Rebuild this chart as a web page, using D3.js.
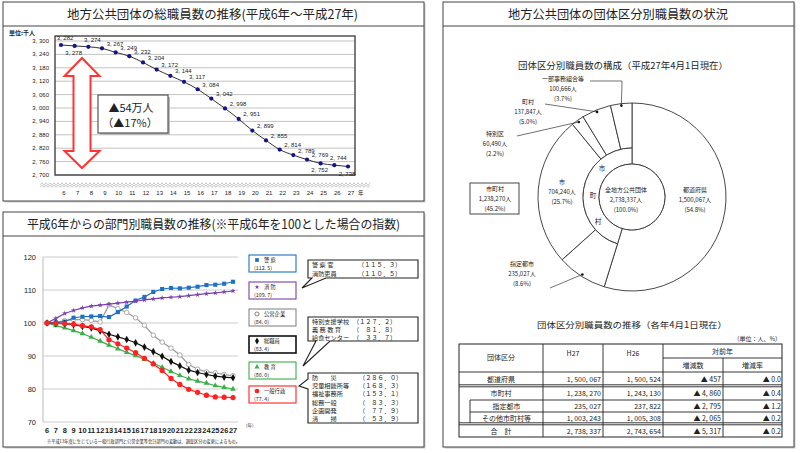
<!DOCTYPE html>
<html><head><meta charset="utf-8">
<script src="https://cdn.jsdelivr.net/npm/d3@7"></script>
<style>
body{margin:0;background:#fff}
svg{display:block}
text{font-family:"Noto Sans CJK JP","Noto Sans",sans-serif;fill:#222}
.num{font-family:"Liberation Sans",Arial,sans-serif}
</style></head><body>
<svg id="c" width="800" height="453"></svg>
<script>
// ===== DATA =====
const years = [6,7,8,9,10,11,12,13,14,15,16,17,18,19,20,21,22,23,24,25,26,27];
const totalStaff = [3282,3278,3274,3267,3249,3232,3204,3172,3144,3117,3084,3042,2998,2951,2899,2855,2814,2789,2769,2752,2744,2738];
const totalTicks = [2700,2760,2820,2880,2940,3000,3060,3120,3180,3240,3300];
const totalLabelSide = ["a","b","a","r","r","r","r","r","r","r","r","r","r","r","r","r","r","r","r","b","a","b"];

const deptNames = ["警 察","消 防","公営企業","総職員","教 育","一般行政"];
const deptLatest = ["(112. 5)","(109. 7)","(84. 0)","(83. 4)","(80. 0)","(77. 4)"];
const police  = [100,100.1,100.4,101.6,101.9,102.0,102.1,101.8,103.3,105.0,106.8,107.9,109.4,110.3,110.6,110.5,110.7,111.0,111.5,111.6,111.9,112.5];
const fire    = [100,101.4,102.9,103.8,104.6,105.1,105.4,105.7,106.0,106.3,106.6,107.0,107.3,107.6,107.8,108.0,108.3,108.6,108.9,109.1,109.4,109.7];
const pubEnt  = [100,100.2,100.7,101.0,101.0,100.8,100.3,105.5,104.3,103.2,101.6,99.3,96.3,94.2,92.4,90.3,87.4,86.0,85.2,84.9,84.4,84.0];
const allStaff= [100,99.9,99.8,99.5,99.0,98.5,97.6,96.6,95.8,95.0,94.0,92.7,91.3,89.9,88.3,87.0,85.7,85.0,84.4,83.9,83.6,83.4];
const educ    = [100,99.2,98.5,97.7,96.8,95.7,94.5,93.3,92.2,91.1,90.1,89.0,87.8,86.6,85.3,84.1,83.1,82.4,81.8,81.0,80.5,80.0];
const general = [100,99.9,99.8,99.6,99.2,98.8,98.0,94.9,93.7,92.4,91.0,89.3,87.6,85.6,83.2,81.4,79.9,79.0,78.1,77.6,77.5,77.4];
const deptTicks = [70,80,90,100,110,120];

const call1 = [["警 察 官","（１１５．３）"],["消防吏員","（１１０．５）"]];
const call2 = [["特別支援学校","（１２７．２）"],["義 務 教 育","（　８１．８）"],["給食センター","（　３３．７）"]];
const call3 = [["防　　災","（２８６．０）"],["児童相談所等","（１６８．３）"],["福祉事務所","（１５３．１）"],["総務一般","（　８３．３）"],["企画開発","（　７７．９）"],["清　　掃","（　５３．９）"]];

const pieCats = ["都道府県","指定都市","市","特別区","町村","一部事務組合等"];
const pieVals = [1500067,235027,704240,60490,137847,100666];
const piePct  = ["(54.8%)","(8.6%)","(25.7%)","(2.2%)","(5.0%)","(3.7%)"];
const munTotal = 1238270, allTotal = 2738337;

const tblHead = ["団体区分","H27","H26","対前年","増減数","増減率"];
const tblRows = ["都道府県","市町村","指定都市","その他市町村等","合　計"];
const tblH27  = ["1, 500, 067","1, 238, 270","235, 027","1, 003, 243","2, 738, 337"];
const tblH26  = ["1, 500, 524","1, 243, 130","237, 822","1, 005, 308","2, 743, 654"];
const tblDiff = ["▲ 457","▲ 4, 860","▲ 2, 795","▲ 2, 065","▲ 5, 317"];
const tblRate = ["▲ 0.0","▲ 0.4","▲ 1.2","▲ 0.2","▲ 0.2"];

// ===== DRAW =====
const svg = d3.select("#c");
const fmtK = v => d3.format(",")(v).replace(",", ", ");

function panel(x,y,w,h,titleBottom,title,cx,tl){
  svg.append("rect").attr("x",x+1.5).attr("y",y+1.5).attr("width",w).attr("height",h).attr("fill","#ccc");
  svg.append("rect").attr("x",x).attr("y",y).attr("width",w).attr("height",h).attr("fill","#fff").attr("stroke","#444").attr("stroke-width",1);
  svg.append("line").attr("x1",x).attr("x2",x+w).attr("y1",titleBottom).attr("y2",titleBottom).attr("stroke","#444");
  svg.append("text").attr("x",cx).attr("y",(y+titleBottom)/2+4.5).attr("text-anchor","middle")
    .attr("font-size",12.5).attr("textLength",tl).attr("lengthAdjust","spacingAndGlyphs").text(title);
}
panel(3,2,421,199,26,"地方公共団体の総職員数の推移(平成6年～平成27年)",212.5,291);
panel(3,212,421,235,236,"平成6年からの部門別職員数の推移(※平成6年を100とした場合の指数)",213.5,373);
panel(443,2,351,445,26,"地方公共団体の団体区分別職員数の状況",618,220);

// ---- Panel A ----
{
  const x = d3.scalePoint().domain(years).range([61,348]);
  const y = d3.scaleLinear().domain([2700,3300]).range([175,41]);
  const g = svg.append("g");
  g.append("text").attr("x",9).attr("y",35).attr("font-size",6).attr("font-weight","bold").text("単位:千人");
  totalTicks.forEach(t=>{
    g.append("line").attr("x1",55).attr("x2",355).attr("y1",y(t)).attr("y2",y(t)).attr("stroke","#bbb").attr("stroke-width",0.9);
    g.append("text").attr("class","num").attr("x",49).attr("y",y(t)+2).attr("text-anchor","end").attr("font-size",6).attr("fill","#444").text(fmtK(t));
  });
  g.append("rect").attr("x",55).attr("y",36).attr("width",300).attr("height",139).attr("fill","none").attr("stroke","#444").attr("stroke-width",1.4);
  for(const off of [0,2.2]){
    const pts = d3.range(40,371,2).map((px,i)=>[px,184+off+(i%2?-1.2:1.2)]);
    g.append("path").attr("d",d3.line()(pts)).attr("fill","none").attr("stroke","#bbb").attr("stroke-width",0.8);
  }
  years.forEach(yr=>{
    g.append("text").attr("class","num").attr("x",x(yr)+3).attr("y",195).attr("text-anchor","middle").attr("font-size",6).attr("fill","#333").text(yr);
  });
  g.append("text").attr("x",358).attr("y",195).attr("font-size",5.5).attr("fill","#333").text("年");
  const arr = [[82,58],[99.5,76],[90.5,76],[90.5,151],[99.5,151],[82,168],[64.5,151],[73.5,151],[73.5,76],[64.5,76]];
  g.append("path").attr("d",d3.line()(arr)+"Z").attr("fill","#fff").attr("stroke","#f33").attr("stroke-width",2).attr("stroke-linejoin","miter");
  g.append("rect").attr("x",100).attr("y",97).attr("width",70).attr("height",38).attr("fill","#bbb");
  g.append("rect").attr("x",98).attr("y",95).attr("width",70).attr("height",38).attr("fill","#fff").attr("stroke","#555").attr("stroke-width",1.2);
  g.append("text").attr("x",131).attr("y",112).attr("text-anchor","middle").attr("font-size",11).text("▲54万人");
  g.append("text").attr("x",130).attr("y",127).attr("text-anchor","middle").attr("font-size",11).text("（▲17%）");
  g.append("path").datum(totalStaff).attr("d",d3.line().x((d,i)=>x(years[i])).y(d=>y(d)).curve(d3.curveMonotoneX))
    .attr("fill","none").attr("stroke","#333").attr("stroke-width",1);
  totalStaff.forEach((v,i)=>{
    g.append("circle").attr("cx",x(years[i])).attr("cy",y(v)).attr("r",2.1).attr("fill","#14148a");
    const s = totalLabelSide[i];
    const dx = s==="r"?13:(s==="a"?4:-1), dy = s==="r"?-2.5:(s==="a"?-5:9);
    g.append("text").attr("class","num").attr("x",x(years[i])+dx).attr("y",y(v)+dy).attr("text-anchor","middle")
      .attr("font-size",6).attr("fill","#333").text(fmtK(v));
  });
}

// ---- Panel B ----
{
  const x = d3.scalePoint().domain(years).range([47,233]);
  const y = d3.scaleLinear().domain([70,120]).range([422,257]);
  const g = svg.append("g");
  deptTicks.forEach(t=>{
    g.append("line").attr("x1",43).attr("x2",238).attr("y1",y(t)).attr("y2",y(t)).attr("stroke","#ccc").attr("stroke-width",1);
    g.append("text").attr("class","num").attr("x",36).attr("y",y(t)+2.5).attr("text-anchor","end").attr("font-size",7.5).attr("fill","#333").text(t);
  });
  g.append("line").attr("x1",43).attr("x2",43).attr("y1",257).attr("y2",422).attr("stroke","#bbb");
  years.forEach(yr=>{
    g.append("text").attr("class","num").attr("x",x(yr)).attr("y",433).attr("text-anchor","middle").attr("font-size",7.4).attr("font-weight","bold").attr("fill","#333").text(yr);
  });
  g.append("text").attr("x",246).attr("y",427).attr("font-size",4.5).attr("fill","#333").text("(年)");
  g.append("text").attr("x",47).attr("y",443).attr("font-size",4.3).attr("textLength",193).attr("lengthAdjust","spacingAndGlyphs").attr("fill","#333")
    .text("※平成13年度に生じている一般行政部門と公営企業等会計部門の変動は、調査区分の変更によるもの。");

  const series = [
    {v:police,  c:"#1f6fc4", sym:d3.symbolSquare, size:17, fill:"#1f6fc4"},
    {v:fire,    c:"#7b3fb0", sym:d3.symbolStar,   size:9,  fill:"#7b3fb0"},
    {v:pubEnt,  c:"#999",    sym:d3.symbolCircle, size:16, fill:"#fff"},
    {v:allStaff,c:"#111",    sym:d3.symbolDiamond,size:17, fill:"#111"},
    {v:educ,    c:"#3cae4a", sym:d3.symbolTriangle,size:14,fill:"#3cae4a"},
    {v:general, c:"#f22",    sym:d3.symbolCircle, size:22, fill:"#f22"}
  ];
  const line = d3.line().x((d,i)=>x(years[i])).y(d=>y(d));
  [2,0,1,4,3,5].forEach(k=>{
    const s = series[k];
    g.append("path").datum(s.v).attr("d",line).attr("fill","none").attr("stroke",s.c).attr("stroke-width",1.2);
    s.v.forEach((v,i)=>{
      g.append("path").attr("d",d3.symbol(s.sym,s.size)()).attr("transform",`translate(${x(years[i])},${y(v)})`)
        .attr("fill",s.fill).attr("stroke",k===2?s.c:"none").attr("stroke-width",0.8);
    });
  });
  const boxY = [255,282,309,336,362,386];
  series.forEach((s,k)=>{
    const by = boxY[k];
    g.append("rect").attr("x",249).attr("y",by).attr("width",47).attr("height",17).attr("fill","#fff").attr("stroke",k===3?"#111":(k===2?"#888":s.c)).attr("stroke-width",k===3?1.6:1.1);
    g.append("path").attr("d",d3.symbol(s.sym,s.size*0.8)()).attr("transform",`translate(257,${by+5})`).attr("fill",s.fill).attr("stroke",k===2?"#666":"none").attr("stroke-width",0.8);
    g.append("text").attr("x",264).attr("y",by+7).attr("font-size",5.3).text(deptNames[k]);
    g.append("text").attr("x",254).attr("y",by+14.5).attr("font-size",5.3).text(deptLatest[k]);
  });
  function callout(bx,by,pathD,rows,valX,lh,first){
    g.append("path").attr("d",pathD).attr("fill","#fff").attr("stroke","#222").attr("stroke-width",1.1);
    rows.forEach((r,i)=>{
      g.append("text").attr("x",bx+4).attr("y",by+first+i*lh).attr("font-size",6.2).text(r[0]);
      g.append("text").attr("x",valX).attr("y",by+first+i*lh).attr("font-size",6.2).text(r[1]);
    });
  }
  callout(308,260,"M308,260H418V278H326L302,288L312,278H308Z",call1,358,8.5,7);
  callout(308,317,"M308,317H418V341H330L303,366L316,341H308Z",call2,353,8,7);
  callout(308,373,"M308,373H418V423H308V389L299,386L308,379Z",call3,359,8.2,7);
}

// ---- Panel C : pie ----
{
  const cx = 632, cy = 197, r0 = 33, r1 = 49, r2 = 94;
  const g = svg.append("g");
  g.append("text").attr("x",623).attr("y",69).attr("text-anchor","middle").attr("font-size",9).attr("textLength",210).attr("lengthAdjust","spacingAndGlyphs")
    .text("団体区分別職員数の構成（平成27年4月1日現在）");
  const arcs = d3.pie().sort(null).value(d=>d)(pieVals);
  const pg = g.append("g").attr("transform",`translate(${cx},${cy})`);
  arcs.forEach((a,i)=>{
    const arc = d3.arc().innerRadius(i===0?r0:r1).outerRadius(r2);
    pg.append("path").attr("d",arc(a)).attr("fill","#fff").attr("stroke","#333").attr("stroke-width",0.9);
  });
  pg.append("path").attr("d",d3.arc().innerRadius(r0).outerRadius(r1)({startAngle:arcs[1].startAngle,endAngle:2*Math.PI}))
    .attr("fill","#fff").attr("stroke","#333").attr("stroke-width",0.9);
  pg.append("circle").attr("r",r0).attr("fill","#fff").attr("stroke","#333").attr("stroke-width",0.9);
  const fs = 6;
  function tl(x,y,lines,anchor="middle"){
    lines.forEach((t,i)=>g.append("text").attr("x",x).attr("y",y+i*10).attr("text-anchor",anchor).attr("font-size",fs).text(t));
  }
  const fmt = d3.format(",");
  tl(626,192,["全地方公共団体",fmt(allTotal)+"人","(100.0%)"]);
  tl(695,192,[pieCats[0],fmt(pieVals[0])+"人",piePct[0]]);
  tl(562,184,[pieCats[2],fmt(pieVals[2])+"人",piePct[2]]);
  tl(522,266,[pieCats[1],fmt(pieVals[1])+"人",piePct[1]]);
  tl(495,136,[pieCats[3],fmt(pieVals[3])+"人",piePct[3]]);
  tl(528,104,[pieCats[4],fmt(pieVals[4])+"人",piePct[4]]);
  tl(563,81,[pieCats[5],fmt(pieVals[5])+"人",piePct[5]]);
  g.append("rect").attr("x",470).attr("y",183).attr("width",49).attr("height",31).attr("fill","#fff").attr("stroke","#333").attr("stroke-width",0.9);
  tl(495,191,["市町村",fmt(munTotal)+"人","(45.2%)"]);
  [["市",602,171],["町",593,198],["村",598,224]].forEach(d=>g.append("text").attr("x",d[1]).attr("y",d[2]).attr("text-anchor","middle").attr("font-size",6.5).text(d[0]));
  const pt = (a,r)=>[cx+r*Math.sin(a), cy-r*Math.cos(a)];
  const mid = a=>(a.startAngle+a.endAngle)/2;
  const leaders = [
    [[550,288], pt(mid(arcs[1]),92)],
    [[517,136], pt(mid(arcs[3]),92)],
    [[545,104], pt(mid(arcs[4]),92)],
    [[590,81],[622,81], pt(mid(arcs[5]),92)]
  ];
  leaders.forEach(p=>{
    g.append("path").attr("d",d3.line()(p)).attr("fill","none").attr("stroke","#333").attr("stroke-width",0.7);
    const e = p[p.length-1];
    g.append("circle").attr("cx",e[0]).attr("cy",e[1]).attr("r",1.3).attr("fill","#111");
  });
}

// ---- Panel C : table ----
{
  const g = svg.append("g");
  g.append("text").attr("x",632).attr("y",328).attr("text-anchor","middle").attr("font-size",8.5).attr("textLength",190).attr("lengthAdjust","spacingAndGlyphs")
    .text("団体区分別職員数の推移（各年4月1日現在）");
  g.append("text").attr("x",781).attr("y",341).attr("text-anchor","end").attr("font-size",6).text("（単位：人、%）");
  const cols = [459,543,603,663,723,782];
  const rowY = [372,386,400,412,424,437];
  const top = 344, sub = 358;
  const ln = (x1,y1,x2,y2,w=0.9)=>g.append("line").attr("x1",x1).attr("y1",y1).attr("x2",x2).attr("y2",y2).attr("stroke","#222").attr("stroke-width",w);
  g.append("rect").attr("x",cols[0]).attr("y",top).attr("width",cols[5]-cols[0]).attr("height",rowY[5]-top).attr("fill","none").attr("stroke","#222").attr("stroke-width",1);
  ln(cols[3],sub,cols[5],sub);
  ln(cols[0],rowY[0],cols[5],rowY[0]);
  ln(cols[0],rowY[1]-1.2,cols[5],rowY[1]-1.2); ln(cols[0],rowY[1]+0.8,cols[5],rowY[1]+0.8);
  ln(470,rowY[2],cols[5],rowY[2]);
  ln(470,rowY[3],cols[5],rowY[3]);
  ln(cols[0],rowY[4]-1.2,cols[5],rowY[4]-1.2); ln(cols[0],rowY[4]+0.8,cols[5],rowY[4]+0.8);
  ln(470,rowY[2],470,rowY[4]-1.2);
  [1,2,3].forEach(c=>ln(cols[c],top,cols[c],rowY[5]));
  ln(cols[4],sub,cols[4],rowY[5]);
  const t = (x,y,s,anchor="middle")=>g.append("text").attr("x",x).attr("y",y).attr("text-anchor",anchor).attr("font-size",7).text(s);
  t((cols[0]+cols[1])/2,top+16,tblHead[0]);
  t((cols[1]+cols[2])/2,top+12,tblHead[1]);
  t((cols[2]+cols[3])/2,top+12,tblHead[2]);
  t((cols[3]+cols[5])/2,top+9.5,tblHead[3]);
  t((cols[3]+cols[4])/2,sub+10,tblHead[4]);
  t((cols[4]+cols[5])/2,sub+10,tblHead[5]);
  tblRows.forEach((r,i)=>{
    const yy = (rowY[i]+rowY[i+1])/2+3;
    const lx = (i===2||i===3)?(470+cols[1])/2:(cols[0]+cols[1])/2;
    t(lx,yy,r);
    t(cols[2]-2,yy,tblH27[i],"end");
    t(cols[3]-2,yy,tblH26[i],"end");
    t(cols[4]-2,yy,tblDiff[i],"end");
    t(cols[5]-1,yy,tblRate[i],"end");
  });
}
</script>
</body></html>
